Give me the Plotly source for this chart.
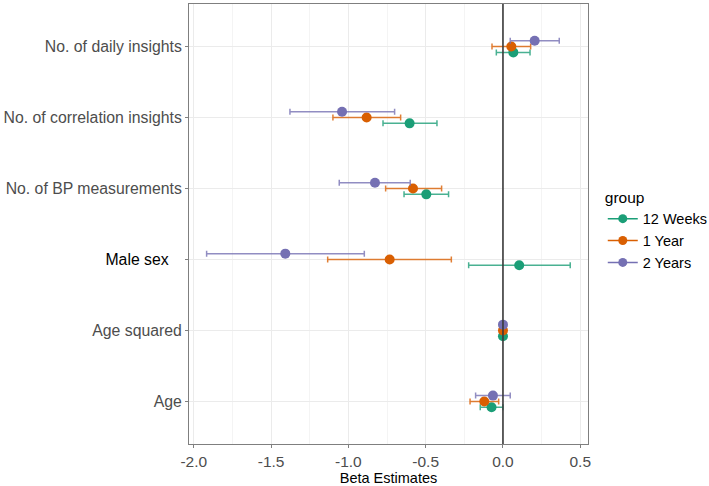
import plotly.graph_objects as go

# ---- data (bottom to top) ----
terms = ["Age", "Age squared", "Male sex", "No. of BP measurements",
         "No. of correlation insights", "No. of daily insights"]
groups = ["12 Weeks", "1 Year", "2 Years"]

est_12w = [-0.074, 0.0, 0.105, -0.496, -0.604, 0.067]
low_12w = [-0.147, -0.002, -0.222, -0.640, -0.776, -0.043]
high_12w = [0.0, 0.002, 0.435, -0.352, -0.427, 0.175]

est_1y = [-0.121, 0.0, -0.733, -0.582, -0.882, 0.054]
low_1y = [-0.213, -0.002, -1.134, -0.759, -1.100, -0.071]
high_1y = [-0.028, 0.002, -0.334, -0.397, -0.662, 0.179]

est_2y = [-0.065, 0.0, -1.408, -0.828, -1.041, 0.205]
low_2y = [-0.177, -0.002, -1.917, -1.059, -1.378, 0.047]
high_2y = [0.047, 0.002, -0.897, -0.600, -0.701, 0.364]

x_ticks = [-2.0, -1.5, -1.0, -0.5, 0.0, 0.5]
x_ticktext = ["-2.0", "-1.5", "-1.0", "-0.5", "0.0", "0.5"]

# ---- styling ----
colors = ["#1B9E77", "#D95F02", "#7570B3"]
bar_colors = ["rgba(27,158,119,0.8)", "rgba(217,95,2,0.8)", "rgba(117,112,179,0.8)"]
dodge = [-0.082, 0.0, 0.082]
FONT = "Liberation Sans, Arial, sans-serif"

series = [(est_12w, low_12w, high_12w), (est_1y, low_1y, high_1y), (est_2y, low_2y, high_2y)]

fig = go.Figure()
base_y = list(range(1, len(terms) + 1))
for g, (est, lo, hi), col, bcol, dd in zip(groups, series, colors, bar_colors, dodge):
    fig.add_trace(go.Scatter(
        x=est, y=[b + dd for b in base_y], mode="markers",
        marker=dict(color=col, size=10, line=dict(width=0)),
        error_x=dict(type="data", symmetric=False,
                     array=[h - e for h, e in zip(hi, est)],
                     arrayminus=[e - l for e, l in zip(est, lo)],
                     color=bcol, thickness=1.5, width=3),
        showlegend=False, name=g, hoverinfo="x+name"))

for g, col in zip(groups, colors):
    fig.add_trace(go.Scatter(
        x=[None], y=[None], mode="lines+markers", name=g,
        marker=dict(color=col, size=9), line=dict(color=col, width=1.5)))

fig.add_vline(x=0, line=dict(color="#3a3a3a", width=1.6), layer="above")

ticktext_y = []
for t in terms:
    if t == "Male sex":
        ticktext_y.append('<span style="color:#000000">Male sex</span>   ')
    else:
        ticktext_y.append(t)

fig.update_layout(
    width=709, height=486,
    margin=dict(l=189, r=121, t=4, b=42, autoexpand=False),
    paper_bgcolor="white", plot_bgcolor="white",
    font=dict(family=FONT, size=15.8, color="#4D4D4D"),
    xaxis=dict(range=[-2.031, 0.55], tickvals=x_ticks, ticktext=x_ticktext,
               automargin=False,
               showgrid=True, gridcolor="#EBEBEB", gridwidth=1,
               minor=dict(dtick=0.25, showgrid=True, gridcolor="#F4F4F4", gridwidth=0.6),
               zeroline=False, showline=True, linecolor="#7F7F7F", linewidth=1, mirror=True,
               ticks="outside", ticklen=3, tickcolor="#7F7F7F",
               tickfont=dict(size=15.5, color="#4D4D4D"),
               title=dict(text="Beta Estimates", font=dict(size=14.5, color="#000000"), standoff=6)),
    yaxis=dict(range=[0.4, 6.6], tickvals=base_y, ticktext=ticktext_y,
               automargin=False,
               showgrid=True, gridcolor="#EBEBEB", gridwidth=1,
               zeroline=False, showline=True, linecolor="#7F7F7F", linewidth=1, mirror=True,
               ticks="outside", ticklen=3, tickcolor="#7F7F7F",
               tickfont=dict(size=15.8, color="#4D4D4D")),
    legend=dict(title=dict(text="group", font=dict(size=15.5, color="#000000")),
                font=dict(size=14.5, color="#000000"),
                x=1.037, xanchor="left", y=0.485, yanchor="middle",
                tracegroupgap=0, itemwidth=30, bgcolor="rgba(0,0,0,0)"),
)

fig.write_html("out.html", config={"displayModeBar": False},
               post_script="document.body.style.margin='0';document.body.style.overflow='hidden';")
